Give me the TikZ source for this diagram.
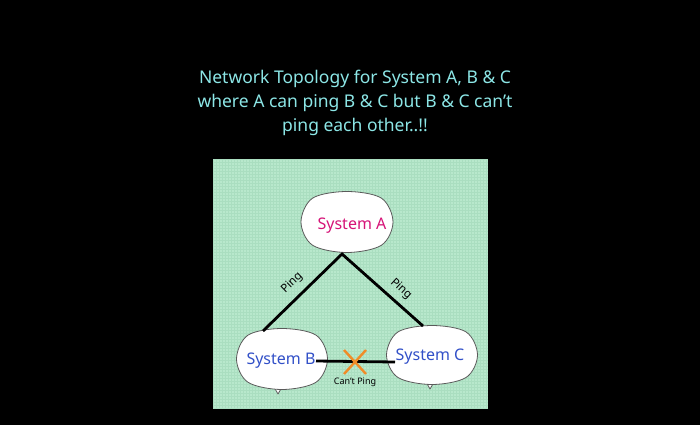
\documentclass[tikz,border=0pt]{standalone}
\usepackage{fontspec}
\setmainfont{Noto Sans}
\usetikzlibrary{calc}
\definecolor{bg}{RGB}{0,0,0}
\definecolor{panel}{RGB}{184,232,204}
\definecolor{gridc}{RGB}{170,222,192}
\definecolor{titlec}{RGB}{140,230,230}
\definecolor{magentac}{RGB}{214,20,120}
\definecolor{bluec}{RGB}{50,80,200}
\definecolor{orangec}{RGB}{240,140,40}
\definecolor{edgec}{RGB}{90,90,90}
\tikzset{
  blobline/.style={draw=edgec, line width=0.8pt, fill=white},
  tail/.style={draw=edgec, line width=0.8pt, fill=white, line join=round},
  link/.style={draw=black, line width=2.8pt},
  pinglbl/.style={font=\fontsize{11.5}{11.5}\selectfont, text=black, inner sep=1pt},
  syslbl/.style={font=\fontsize{16}{16}\selectfont, inner sep=1pt},
  titletxt/.style={font=\fontsize{17.5}{24}\selectfont, text=titlec, align=center}
}
% #1 centre node, #2 half width, #3 half height
\newcommand\myblob[3]{%
  \begin{scope}[shift={(#1)}]
  \draw[blobline] plot[smooth cycle, tension=0.55] coordinates {
    ({#2},0) ({0.75*#2},{0.76*#3}) (0,{#3}) ({-0.75*#2},{0.76*#3})
    ({-#2},0) ({-0.75*#2},{-0.78*#3}) (0,{-#3}) ({0.75*#2},{-0.78*#3})};
  \end{scope}}
\begin{document}
\begin{tikzpicture}[x=1pt,y=-1pt]
\useasboundingbox[fill=bg] (0,0) rectangle (700,425);
\fill[panel] (213,159) rectangle (488,408);
\begin{scope}
\clip (213,159) rectangle (488,408);
\draw[gridc, line width=0.3pt, step=3pt] (213,159) grid (488,408);
\end{scope}
\node[titletxt] (title) at (355,103) {Network Topology for System A, B \& C\\where A can ping B \& C but B \& C can't\\ping each other..!!};
% bubble centres
\coordinate (A) at (347,222);
\coordinate (B) at (282,359);
\coordinate (C) at (432,355);
% tails
\draw[tail] (274,387) -- (278,394) -- (282,387);
\draw[tail] (426,382) -- (430,389) -- (434,382);
% bubbles
\myblob{A}{46}{30.5}
\myblob{B}{45.5}{30.5}
\myblob{C}{45.5}{29.5}
\node[syslbl, text=magentac] (Atxt) at (352,226) {System A};
\node[syslbl, text=bluec] (Btxt) at (281,361) {System B};
\node[syslbl, text=bluec] (Ctxt) at (430,357) {System C};
% links
\coordinate (apex) at (342,254);
\coordinate (btop) at (263,331);
\coordinate (ctop) at (423,326);
\draw[link] (btop) -- (apex) -- (ctop);
\coordinate (bc1) at (316,361);
\coordinate (bc2) at (395,362);
\draw[link] (bc1) -- (bc2);
\node[pinglbl, rotate=44] (p1) at (292,283) {Ping};
\node[pinglbl, rotate=-42] (p2) at (401,289) {Ping};
% X
\coordinate (xc) at (355,362);
\draw[orangec, line width=2.4pt] ($(xc)+(-11,-12)$) -- ($(xc)+(11,12)$);
\draw[orangec, line width=2.4pt] ($(xc)+(-11,12)$) -- ($(xc)+(11,-12)$);
\node[font=\fontsize{9}{9}\selectfont, text=black] (cant) at (355,382) {Can't Ping};
\end{tikzpicture}
\end{document}
